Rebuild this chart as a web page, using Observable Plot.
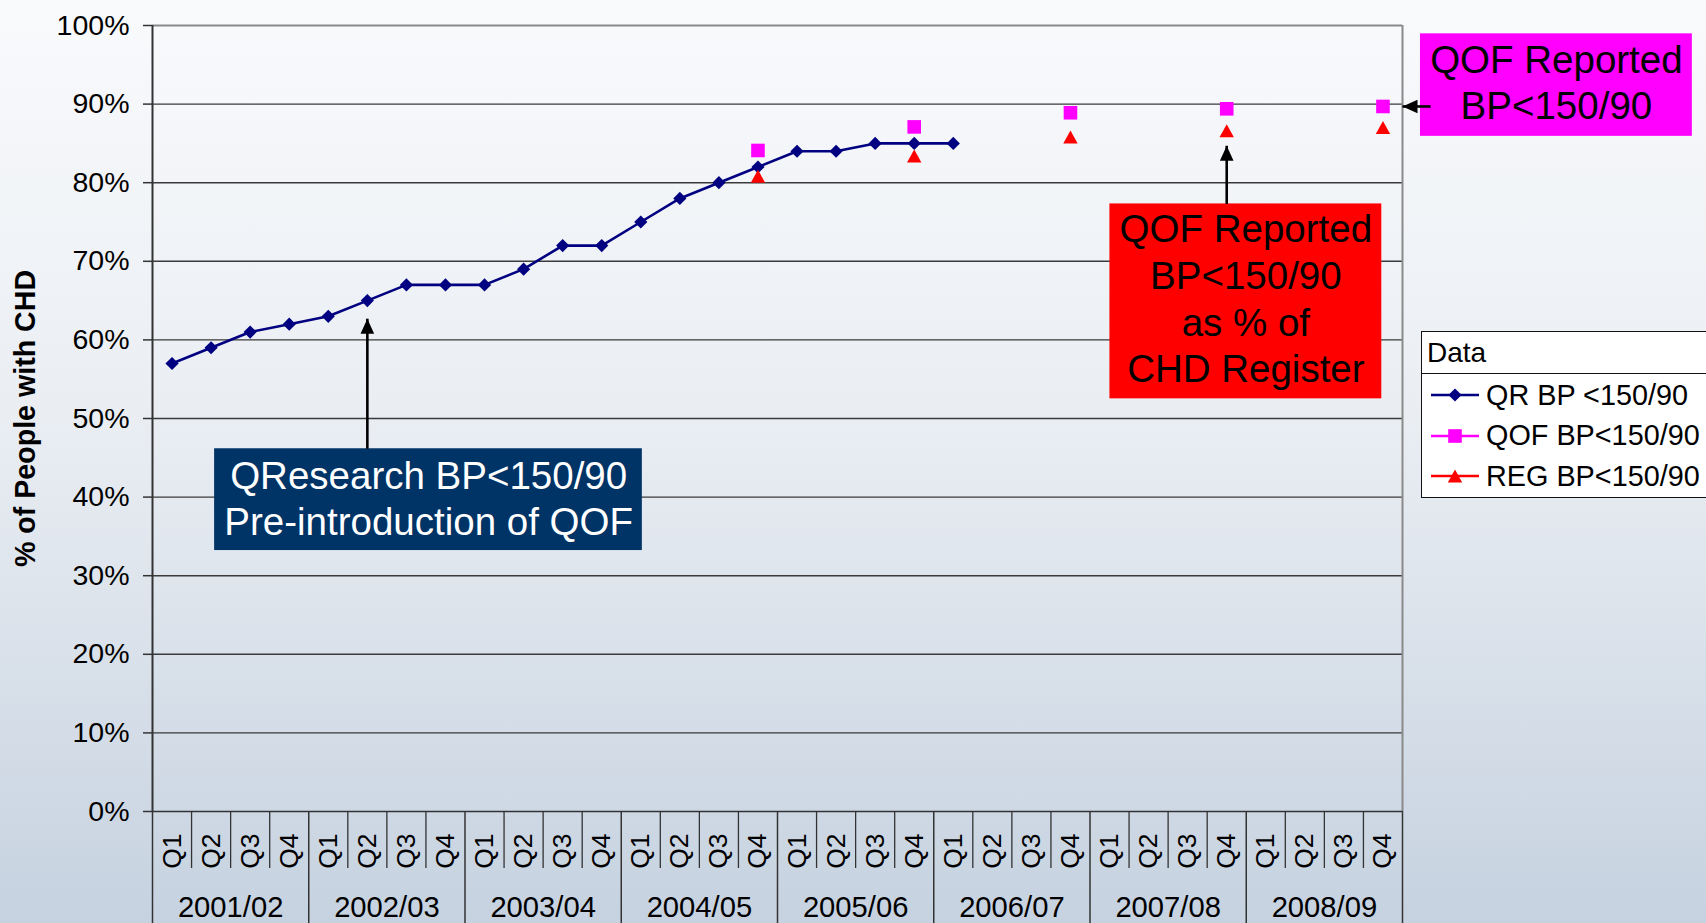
<!DOCTYPE html>
<html>
<head>
<meta charset="utf-8">
<script src="https://cdn.jsdelivr.net/npm/d3@7"></script>
<script src="https://cdn.jsdelivr.net/npm/@observablehq/plot@0.6"></script>
<style>
  html, body { margin: 0; padding: 0; overflow: hidden; }
  body {
    width: 1706px; height: 923px;
    background: linear-gradient(to bottom, #f9fafc 0%, #eaeef3 45%, #c6d2e0 100%);
    font-family: "Liberation Sans", Arial, sans-serif;
  }
  #wrap { position: relative; width: 1706px; height: 923px; }
  #legend {
    position: absolute; left: 1421px; top: 331px; width: 340px;
    background: #fff; border: 1.5px solid #111; box-sizing: border-box;
    font-size: 28.8px; color: #000;
  }
  #legend .hd { height: 41px; line-height: 41px; padding-left: 5px; border-bottom: 1.5px solid #111; font-size: 28px; }
  #legend .rows { padding-top: 1px; padding-bottom: 0; }
  #legend .row { height: 40.5px; display: flex; align-items: center; }
  #legend .row svg { margin-left: 9px; margin-right: 7px; flex: none; }
</style>
</head>
<body>
<div id="wrap"></div>
<script>
// ---------------- data ----------------
const years = ["2001/02", "2002/03", "2003/04", "2004/05", "2005/06", "2006/07", "2007/08", "2008/09"];
const quarters = ["Q1", "Q2", "Q3", "Q4"];
// QR BP <150/90, from 2001/02 Q1 to 2006/07 Q1
const qrValues = [57, 59, 61, 62, 63, 65, 67, 67, 67, 69, 72, 72, 75, 78, 80, 82, 84, 84, 85, 85, 85];
const qofPeriods = ["2004/05 Q4", "2005/06 Q4", "2006/07 Q4", "2007/08 Q4", "2008/09 Q4"];
const qofValues = [84.1, 87.1, 88.9, 89.4, 89.7];
const regValues = [80.8, 83.4, 85.8, 86.6, 87.0];
const yTicks = [0, 10, 20, 30, 40, 50, 60, 70, 80, 90, 100];
const seriesNames = ["QR BP <150/90", "QOF BP<150/90", "REG BP<150/90"];
const seriesColors = ["#000080", "#ff00ff", "#ff0000"];
const legendTitle = "Data";
const yTitle = "% of People with CHD";
const annotationTexts = [
  "QResearch BP<150/90\nPre-introduction of QOF",
  "QOF Reported\nBP<150/90\nas % of\nCHD Register",
  "QOF Reported\nBP<150/90"
];

// ---------------- layout (annotation placement, in chart units) ----------------
const annLayout = [
  {x1: 1.59, x2: 12.54, y1: 33.2, y2: 46.15, tx: 7.07, ty: 40.0, fill: "#003366", ink: "#ffffff"},
  {x1: 24.51, x2: 31.47, y1: 52.5, y2: 77.3, tx: 27.99, ty: 65.4, fill: "#ff0000", ink: "#000000"},
  {x1: 32.46, x2: 39.42, y1: 85.9, y2: 98.94, tx: 35.94, ty: 92.9, fill: "#ff00ff", ink: "#000000"}
];
const upArrows = [
  {x1: 5.5, y1: 46.15, x2: 5.5, y2: 62.7},
  {x1: 27.5, y1: 77.3, x2: 27.5, y2: 84.7}
];
const leftArrows = [
  {x1: 32.72, y1: 89.7, x2: 32.0, y2: 89.7}
];

// ---------------- derived ----------------
const periods = years.flatMap(y => quarters.map(q => `${y} ${q}`));
const pos = p => periods.indexOf(p) + 0.5;
const qr = qrValues.map((v, i) => ({period: periods[i], value: v}));
const qof = qofPeriods.map((p, i) => ({period: p, value: qofValues[i]}));
const reg = qofPeriods.map((p, i) => ({period: p, value: regValues[i]}));
const quarterBounds = d3.range(0, periods.length + 1).filter(i => i % 4 !== 0);
const yearBounds = d3.range(0, periods.length + 1, 4);
const anns = annLayout.map((a, i) => ({...a, text: annotationTexts[i]}));

// marker symbols (Excel-like, centred on bounding box)
const diamondSym = {draw(c) { const r = 6.6; c.moveTo(0, -r); c.lineTo(r, 0); c.lineTo(0, r); c.lineTo(-r, 0); c.closePath(); }};
const squareSym = {draw(c) { const h = 6.8; c.moveTo(-h, -h); c.lineTo(h, -h); c.lineTo(h, h); c.lineTo(-h, h); c.closePath(); }};
const triangleSym = {draw(c) { c.moveTo(0, -6.6); c.lineTo(7.2, 6.4); c.lineTo(-7.2, 6.4); c.closePath(); }};
const headUp = {draw(c) { c.moveTo(0, 0); c.lineTo(6.8, 15); c.lineTo(-6.8, 15); c.closePath(); }};
const headLeft = {draw(c) { c.moveTo(0, 0); c.lineTo(15, -6.8); c.lineTo(15, 6.8); c.closePath(); }};
const symbols = [diamondSym, squareSym, triangleSym];

const font = "'Liberation Sans', Arial, sans-serif";

const chart = Plot.plot({
  width: 1706,
  height: 923,
  marginLeft: 152,
  marginRight: 304,
  marginTop: 25,
  marginBottom: 112,
  style: {background: "transparent", fontFamily: font, color: "#000"},
  x: {type: "linear", domain: [0, periods.length], axis: null},
  y: {domain: [0, 100], axis: null},
  color: {type: "identity"},
  marks: [
    Plot.gridY(yTicks.slice(1, -1), {stroke: "#3a3a3a", strokeOpacity: 1, strokeWidth: 1.4}),
    Plot.ruleY([100], {stroke: "#8a8a8a", strokeWidth: 2}),
    Plot.ruleX([periods.length], {stroke: "#8a8a8a", strokeWidth: 2}),
    Plot.axisX(quarterBounds, {anchor: "bottom", tickSize: 57, stroke: "#333", strokeWidth: 1.3, fill: "none", label: null}),
    Plot.axisX(yearBounds, {anchor: "bottom", tickSize: 113, stroke: "#333", strokeWidth: 1.5, fill: "none", label: null}),
    Plot.ruleX([0], {stroke: "#333", strokeWidth: 2}),
    Plot.ruleY([0], {stroke: "#333", strokeWidth: 1.6}),
    Plot.axisY(yTicks, {anchor: "left", tickSize: 9, tickPadding: 14, strokeWidth: 1.5, stroke: "#333", fill: "#000",
      tickFormat: d => d + "%", fontSize: 28.5, label: null}),
    Plot.text(periods, {x: d => pos(d), text: d => d.split(" ")[1], frameAnchor: "bottom", rotate: -90,
      textAnchor: "end", lineAnchor: "middle", dy: 22, fontSize: 26.5, fill: "#000"}),
    Plot.text(years, {x: (d, i) => i * 4 + 2, text: d => d, frameAnchor: "bottom", dy: 96,
      lineAnchor: "middle", fontSize: 29.2, fill: "#000"}),
    Plot.text([yTitle], {frameAnchor: "left", dx: -127, rotate: -90, textAnchor: "middle", lineAnchor: "middle",
      fontSize: 28.6, fontWeight: "bold", fill: "#000"}),
    // annotation boxes
    Plot.rect(anns, {x1: "x1", x2: "x2", y1: "y1", y2: "y2", fill: "fill"}),
    Plot.text(anns, {x: "tx", y: "ty", text: "text", fill: "ink", fontSize: 38.5, lineHeight: 1.21,
      lineAnchor: "middle", textAnchor: "middle"}),
    // data
    Plot.line(qr, {x: d => pos(d.period), y: "value", stroke: seriesColors[0], strokeWidth: 2.6}),
    Plot.dot(qr, {x: d => pos(d.period), y: "value", symbol: symbols[0], fill: seriesColors[0], stroke: "none"}),
    Plot.dot(qof, {x: d => pos(d.period), y: "value", symbol: symbols[1], fill: seriesColors[1], stroke: "none"}),
    Plot.dot(reg, {x: d => pos(d.period), y: "value", symbol: symbols[2], fill: seriesColors[2], stroke: "none"}),
    // arrows
    Plot.link(upArrows.concat(leftArrows), {x1: "x1", y1: "y1", x2: "x2", y2: "y2", stroke: "#000", strokeWidth: 2.6}),
    Plot.dot(upArrows, {x: "x2", y: "y2", symbol: headUp, fill: "#000", stroke: "none"}),
    Plot.dot(leftArrows, {x: "x2", y: "y2", symbol: headLeft, fill: "#000", stroke: "none"})
  ]
});

const wrap = document.getElementById("wrap");
wrap.appendChild(chart);

// legend (HTML overlay)
function symPath(sym) { const p = d3.path(); sym.draw(p, 0); return p.toString(); }
const legend = document.createElement("div");
legend.id = "legend";
const hd = document.createElement("div");
hd.className = "hd";
hd.textContent = legendTitle;
legend.appendChild(hd);
const rows = document.createElement("div");
rows.className = "rows";
seriesNames.forEach((name, i) => {
  const row = document.createElement("div");
  row.className = "row";
  const svg = d3.create("svg").attr("width", 48).attr("height", 20);
  svg.append("line").attr("x1", 0).attr("x2", 48).attr("y1", 10).attr("y2", 10)
    .attr("stroke", seriesColors[i]).attr("stroke-width", 2.4);
  svg.append("path").attr("transform", "translate(24,10)").attr("d", symPath(symbols[i])).attr("fill", seriesColors[i]);
  row.appendChild(svg.node());
  const span = document.createElement("span");
  span.textContent = name;
  row.appendChild(span);
  rows.appendChild(row);
});
legend.appendChild(rows);
wrap.appendChild(legend);
</script>
</body>
</html>
